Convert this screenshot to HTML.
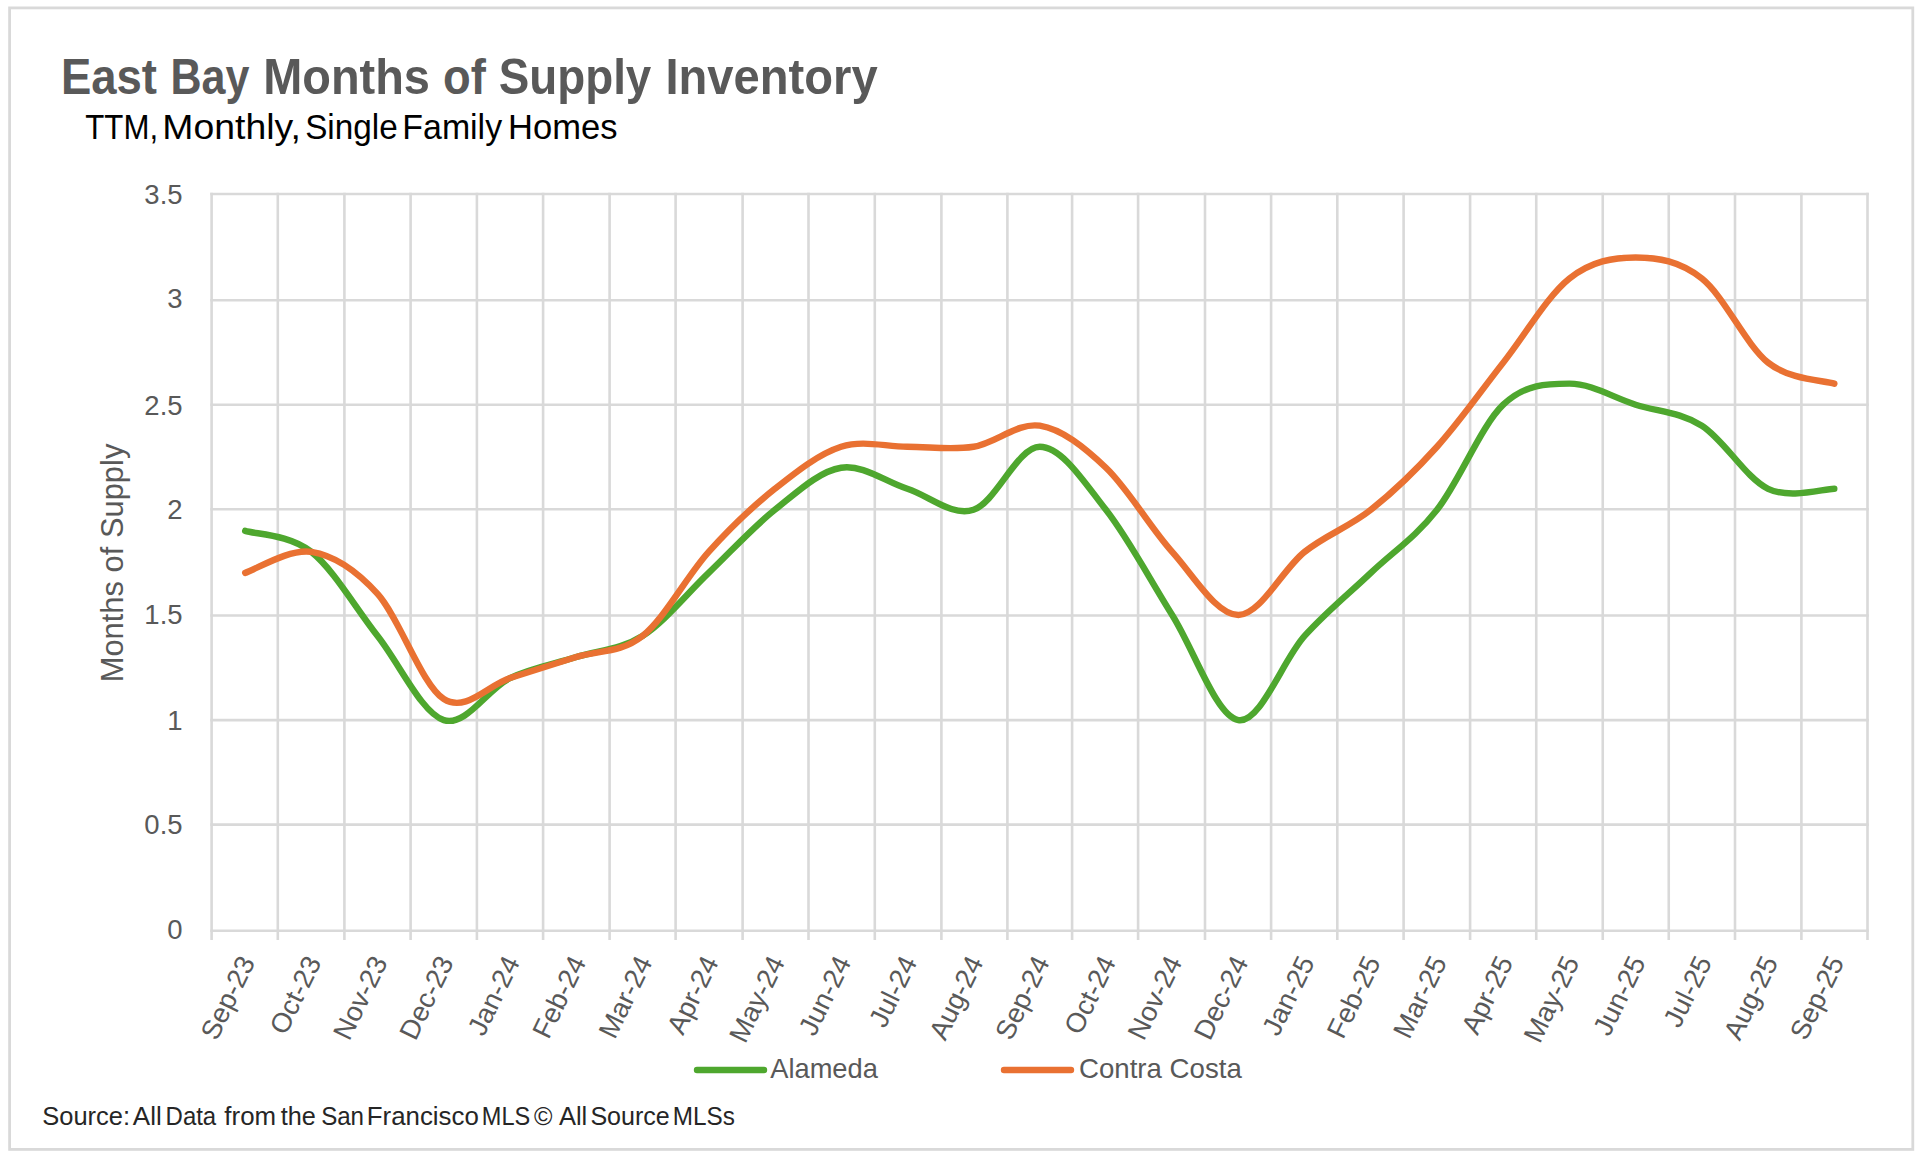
<!DOCTYPE html>
<html><head><meta charset="utf-8"><title>East Bay Months of Supply Inventory</title>
<style>
html,body{margin:0;padding:0;background:#fff;width:1920px;height:1159px;overflow:hidden}
svg{display:block}
text{font-family:"Liberation Sans",Arial,sans-serif}
.ax{font-size:27.5px;fill:#595959}
.yt{font-size:30.9px;fill:#595959}
.ttl{font-weight:bold;font-size:50.5px;fill:#595959}
.sub{font-size:35px;fill:#000}
.src{font-size:25px;fill:#262626}
.leg{font-size:27.5px;fill:#595959}
</style></head><body>
<svg width="1920" height="1159" viewBox="0 0 1920 1159">
<rect width="1920" height="1159" fill="#fff"/>
<rect x="9.6" y="7.9" width="1903.2" height="1141.5" fill="none" stroke="#d9d9d9" stroke-width="2.8"/>
<g stroke="#d9d9d9" stroke-width="2.6" stroke-linecap="square" fill="none"><line x1="211.60" y1="930.70" x2="1867.50" y2="930.70"/><line x1="211.60" y1="824.60" x2="1867.50" y2="824.60"/><line x1="211.60" y1="720.10" x2="1867.50" y2="720.10"/><line x1="211.60" y1="615.50" x2="1867.50" y2="615.50"/><line x1="211.60" y1="509.30" x2="1867.50" y2="509.30"/><line x1="211.60" y1="404.75" x2="1867.50" y2="404.75"/><line x1="211.60" y1="300.20" x2="1867.50" y2="300.20"/><line x1="211.60" y1="194.00" x2="1867.50" y2="194.00"/><line x1="211.60" y1="194.00" x2="211.60" y2="938.60"/><line x1="277.80" y1="194.00" x2="277.80" y2="938.60"/><line x1="344.40" y1="194.00" x2="344.40" y2="938.60"/><line x1="410.60" y1="194.00" x2="410.60" y2="938.60"/><line x1="476.90" y1="194.00" x2="476.90" y2="938.60"/><line x1="543.10" y1="194.00" x2="543.10" y2="938.60"/><line x1="609.60" y1="194.00" x2="609.60" y2="938.60"/><line x1="675.60" y1="194.00" x2="675.60" y2="938.60"/><line x1="742.60" y1="194.00" x2="742.60" y2="938.60"/><line x1="808.50" y1="194.00" x2="808.50" y2="938.60"/><line x1="874.80" y1="194.00" x2="874.80" y2="938.60"/><line x1="941.40" y1="194.00" x2="941.40" y2="938.60"/><line x1="1007.40" y1="194.00" x2="1007.40" y2="938.60"/><line x1="1072.10" y1="194.00" x2="1072.10" y2="938.60"/><line x1="1138.10" y1="194.00" x2="1138.10" y2="938.60"/><line x1="1205.00" y1="194.00" x2="1205.00" y2="938.60"/><line x1="1271.10" y1="194.00" x2="1271.10" y2="938.60"/><line x1="1337.30" y1="194.00" x2="1337.30" y2="938.60"/><line x1="1403.60" y1="194.00" x2="1403.60" y2="938.60"/><line x1="1470.10" y1="194.00" x2="1470.10" y2="938.60"/><line x1="1536.25" y1="194.00" x2="1536.25" y2="938.60"/><line x1="1602.75" y1="194.00" x2="1602.75" y2="938.60"/><line x1="1668.75" y1="194.00" x2="1668.75" y2="938.60"/><line x1="1735.00" y1="194.00" x2="1735.00" y2="938.60"/><line x1="1801.40" y1="194.00" x2="1801.40" y2="938.60"/><line x1="1867.50" y1="194.00" x2="1867.50" y2="938.60"/></g>
<text x="60.91" y="94.20" class="ttl" textLength="96.01" lengthAdjust="spacingAndGlyphs">East</text>
<text x="170.41" y="94.20" class="ttl" textLength="79.02" lengthAdjust="spacingAndGlyphs">Bay</text>
<text x="263.17" y="94.20" class="ttl" textLength="166.73" lengthAdjust="spacingAndGlyphs">Months</text>
<text x="442.98" y="94.20" class="ttl" textLength="42.83" lengthAdjust="spacingAndGlyphs">of</text>
<text x="498.79" y="94.20" class="ttl" textLength="152.52" lengthAdjust="spacingAndGlyphs">Supply</text>
<text x="665.45" y="94.20" class="ttl" textLength="212.25" lengthAdjust="spacingAndGlyphs">Inventory</text>
<text x="85.31" y="139.10" class="sub" textLength="72.82" lengthAdjust="spacingAndGlyphs">TTM,</text>
<text x="162.38" y="139.10" class="sub" textLength="138.41" lengthAdjust="spacingAndGlyphs">Monthly,</text>
<text x="305.16" y="139.10" class="sub" textLength="92.59" lengthAdjust="spacingAndGlyphs">Single</text>
<text x="402.35" y="139.10" class="sub" textLength="99.75" lengthAdjust="spacingAndGlyphs">Family</text>
<text x="508.00" y="139.10" class="sub" textLength="109.48" lengthAdjust="spacingAndGlyphs">Homes</text>
<text x="42.28" y="1124.70" class="src" textLength="87.81" lengthAdjust="spacingAndGlyphs">Source:</text>
<text x="132.80" y="1124.70" class="src" textLength="28.92" lengthAdjust="spacingAndGlyphs">All</text>
<text x="165.58" y="1124.70" class="src" textLength="50.63" lengthAdjust="spacingAndGlyphs">Data</text>
<text x="224.39" y="1124.70" class="src" textLength="51.69" lengthAdjust="spacingAndGlyphs">from</text>
<text x="280.70" y="1124.70" class="src" textLength="35.12" lengthAdjust="spacingAndGlyphs">the</text>
<text x="321.14" y="1124.70" class="src" textLength="42.91" lengthAdjust="spacingAndGlyphs">San</text>
<text x="366.83" y="1124.70" class="src" textLength="112.00" lengthAdjust="spacingAndGlyphs">Francisco</text>
<text x="481.82" y="1124.70" class="src" textLength="48.39" lengthAdjust="spacingAndGlyphs">MLS</text>
<text x="533.90" y="1124.70" class="src" textLength="18.42" lengthAdjust="spacingAndGlyphs">©</text>
<text x="558.90" y="1124.70" class="src" textLength="28.39" lengthAdjust="spacingAndGlyphs">All</text>
<text x="590.40" y="1124.70" class="src" textLength="79.41" lengthAdjust="spacingAndGlyphs">Source</text>
<text x="672.76" y="1124.70" class="src" textLength="62.12" lengthAdjust="spacingAndGlyphs">MLSs</text>
<text x="770.20" y="1078.30" class="leg" textLength="107.73" lengthAdjust="spacingAndGlyphs">Alameda</text>
<text x="1079.00" y="1078.30" class="leg" textLength="162.82" lengthAdjust="spacingAndGlyphs">Contra Costa</text>
<text x="182.6" y="938.80" text-anchor="end" class="ax">0</text>
<text x="182.6" y="834.20" text-anchor="end" class="ax">0.5</text>
<text x="182.6" y="729.70" text-anchor="end" class="ax">1</text>
<text x="182.6" y="623.65" text-anchor="end" class="ax">1.5</text>
<text x="182.6" y="518.90" text-anchor="end" class="ax">2</text>
<text x="182.6" y="414.50" text-anchor="end" class="ax">2.5</text>
<text x="182.6" y="308.30" text-anchor="end" class="ax">3</text>
<text x="182.6" y="203.75" text-anchor="end" class="ax">3.5</text>
<text transform="translate(123.2 563) rotate(-90)" text-anchor="middle" class="yt">Months of Supply</text>
<text transform="translate(255.67 962.00) rotate(-64)" text-anchor="end" class="ax">Sep-23</text>
<text transform="translate(321.89 962.00) rotate(-64)" text-anchor="end" class="ax">Oct-23</text>
<text transform="translate(388.10 962.00) rotate(-64)" text-anchor="end" class="ax">Nov-23</text>
<text transform="translate(454.32 962.00) rotate(-64)" text-anchor="end" class="ax">Dec-23</text>
<text transform="translate(520.53 962.00) rotate(-64)" text-anchor="end" class="ax">Jan-24</text>
<text transform="translate(586.74 962.00) rotate(-64)" text-anchor="end" class="ax">Feb-24</text>
<text transform="translate(652.96 962.00) rotate(-64)" text-anchor="end" class="ax">Mar-24</text>
<text transform="translate(719.17 962.00) rotate(-64)" text-anchor="end" class="ax">Apr-24</text>
<text transform="translate(785.38 962.00) rotate(-64)" text-anchor="end" class="ax">May-24</text>
<text transform="translate(851.60 962.00) rotate(-64)" text-anchor="end" class="ax">Jun-24</text>
<text transform="translate(917.81 962.00) rotate(-64)" text-anchor="end" class="ax">Jul-24</text>
<text transform="translate(984.03 962.00) rotate(-64)" text-anchor="end" class="ax">Aug-24</text>
<text transform="translate(1050.24 962.00) rotate(-64)" text-anchor="end" class="ax">Sep-24</text>
<text transform="translate(1116.45 962.00) rotate(-64)" text-anchor="end" class="ax">Oct-24</text>
<text transform="translate(1182.67 962.00) rotate(-64)" text-anchor="end" class="ax">Nov-24</text>
<text transform="translate(1248.88 962.00) rotate(-64)" text-anchor="end" class="ax">Dec-24</text>
<text transform="translate(1315.10 962.00) rotate(-64)" text-anchor="end" class="ax">Jan-25</text>
<text transform="translate(1381.31 962.00) rotate(-64)" text-anchor="end" class="ax">Feb-25</text>
<text transform="translate(1447.52 962.00) rotate(-64)" text-anchor="end" class="ax">Mar-25</text>
<text transform="translate(1513.74 962.00) rotate(-64)" text-anchor="end" class="ax">Apr-25</text>
<text transform="translate(1579.95 962.00) rotate(-64)" text-anchor="end" class="ax">May-25</text>
<text transform="translate(1646.16 962.00) rotate(-64)" text-anchor="end" class="ax">Jun-25</text>
<text transform="translate(1712.38 962.00) rotate(-64)" text-anchor="end" class="ax">Jul-25</text>
<text transform="translate(1778.59 962.00) rotate(-64)" text-anchor="end" class="ax">Aug-25</text>
<text transform="translate(1844.81 962.00) rotate(-64)" text-anchor="end" class="ax">Sep-25</text>
<g fill="none" stroke-width="6.4" stroke-linecap="round" stroke-linejoin="round"><path d="M245.17 530.85 C256.21 534.35 289.32 534.35 311.39 551.87 C333.46 569.40 355.53 607.95 377.60 635.98 C399.67 664.02 421.74 713.08 443.82 720.09 C465.89 727.10 487.96 688.55 510.03 678.04 C532.10 667.52 554.17 664.02 576.24 657.01 C598.31 650.00 620.39 650.00 642.46 635.98 C664.53 621.96 686.60 593.93 708.67 572.90 C730.74 551.87 752.81 527.34 774.88 509.82 C796.96 492.30 819.03 471.27 841.10 467.77 C863.17 464.26 885.24 481.78 907.31 488.79 C929.38 495.80 951.45 516.83 973.53 509.82 C995.60 502.81 1017.67 446.74 1039.74 446.74 C1061.81 446.74 1083.88 481.78 1105.95 509.82 C1128.03 537.86 1150.10 579.91 1172.17 614.95 C1194.24 650.00 1216.31 716.59 1238.38 720.09 C1260.45 723.59 1282.52 660.51 1304.60 635.98 C1326.67 611.45 1348.74 593.93 1370.81 572.90 C1392.88 551.87 1414.95 537.86 1437.02 509.82 C1459.09 481.78 1481.17 425.71 1503.24 404.68 C1525.31 383.66 1547.38 383.66 1569.45 383.66 C1591.52 383.66 1613.59 397.68 1635.66 404.68 C1657.74 411.69 1679.81 411.69 1701.88 425.71 C1723.95 439.73 1746.02 478.28 1768.09 488.79 C1790.16 499.31 1823.27 488.79 1834.31 488.79" stroke="#4ea72e"/><path d="M245.17 572.90 C256.21 569.40 289.32 548.37 311.39 551.87 C333.46 555.38 355.53 569.40 377.60 593.93 C399.67 618.46 421.74 685.04 443.82 699.06 C465.89 713.08 487.96 685.05 510.03 678.04 C532.10 671.03 554.17 664.02 576.24 657.01 C598.31 650.00 620.39 653.50 642.46 635.98 C664.53 618.46 686.60 576.41 708.67 551.87 C730.74 527.34 752.81 506.32 774.88 488.79 C796.96 471.27 819.03 453.75 841.10 446.74 C863.17 439.73 885.24 446.74 907.31 446.74 C929.38 446.74 951.45 450.24 973.53 446.74 C995.60 443.23 1017.67 422.21 1039.74 425.71 C1061.81 429.22 1083.88 446.74 1105.95 467.77 C1128.03 488.79 1150.10 527.34 1172.17 551.87 C1194.24 576.41 1216.31 614.95 1238.38 614.95 C1260.45 614.95 1282.52 569.40 1304.60 551.87 C1326.67 534.35 1348.74 527.34 1370.81 509.82 C1392.88 492.30 1414.95 471.27 1437.02 446.74 C1459.09 422.21 1481.17 390.67 1503.24 362.63 C1525.31 334.59 1547.38 296.05 1569.45 278.52 C1591.52 261.00 1613.59 257.50 1635.66 257.50 C1657.74 257.50 1679.81 261.00 1701.88 278.52 C1723.95 296.05 1746.02 345.11 1768.09 362.63 C1790.16 380.15 1823.27 380.15 1834.31 383.66" stroke="#e97132"/></g>
<line x1="697" y1="1070" x2="764" y2="1070" stroke="#4ea72e" stroke-width="6.4" stroke-linecap="round"/>
<line x1="1004" y1="1070" x2="1071" y2="1070" stroke="#e97132" stroke-width="6.4" stroke-linecap="round"/>
</svg>
</body></html>
